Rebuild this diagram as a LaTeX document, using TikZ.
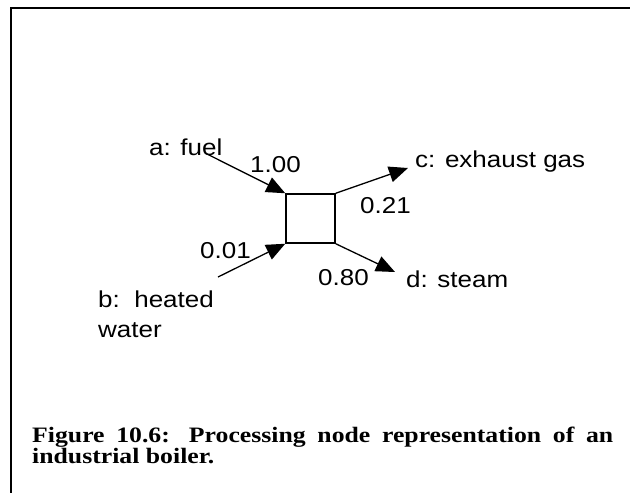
\documentclass[tikz,border=0pt]{standalone}
\usepackage{fontspec}
\newfontfamily\capfont[FakeStretch=1.17]{Liberation Serif}
\newfontfamily\arialfont[FakeStretch=1.13]{Liberation Sans}
\usetikzlibrary{arrows.meta}
\begin{document}
\begin{tikzpicture}[x=1pt,y=-1pt,
  lbl/.style={font=\arialfont\fontsize{23}{30}\selectfont, inner sep=0pt, anchor=base west},
  flow/.style={line width=1.3pt, -{Triangle[length=19pt,width=16pt]}},
  procbox/.style={draw, line width=1.5pt, minimum width=49pt, minimum height=49pt, inner sep=0pt}]
\useasboundingbox (0,0) rectangle (630,493);
\fill[white] (0,0) rectangle (630,493);
\draw[line width=2.4pt] (11,493) -- (11,8) -- (630,8);
% process node
\node[procbox] (box) at (310.5,218.5) {};
% free ends
\coordinate (fuelstart) at (205,153);
\coordinate (waterstart) at (218,277);
\coordinate (gasend) at (408,168);
\coordinate (steamend) at (395,272);
\draw[flow] (fuelstart) -- (box.north west);
\draw[flow] (waterstart) -- (box.south west);
\draw[flow] (box.north east) -- (gasend);
\draw[flow] (box.south east) -- (steamend);
% labels
\node[lbl] (la) at (149,155) {a: fuel};
\node[lbl] (v1) at (250,172) {1.00};
\node[lbl] (lc) at (415,167) {c: exhaust gas};
\node[lbl] (v2) at (360,213) {0.21};
\node[lbl] (v3) at (200,258) {0.01};
\node[lbl] (v4) at (318,285) {0.80};
\node[lbl] (ld) at (406,287) {d: steam};
\node[lbl] (lb) at (98,307) {b:\ \ heated};
\node[lbl] (lw) at (98,337) {water};
% caption
\node[anchor=base west, inner sep=0pt, text width=581pt, align=justify,
      font=\capfont\bfseries\fontsize{22}{21}\selectfont] (cap) at (32,442)
  {Figure 10.6: Processing node representation of an\linebreak industrial boiler.};
\end{tikzpicture}
\end{document}
